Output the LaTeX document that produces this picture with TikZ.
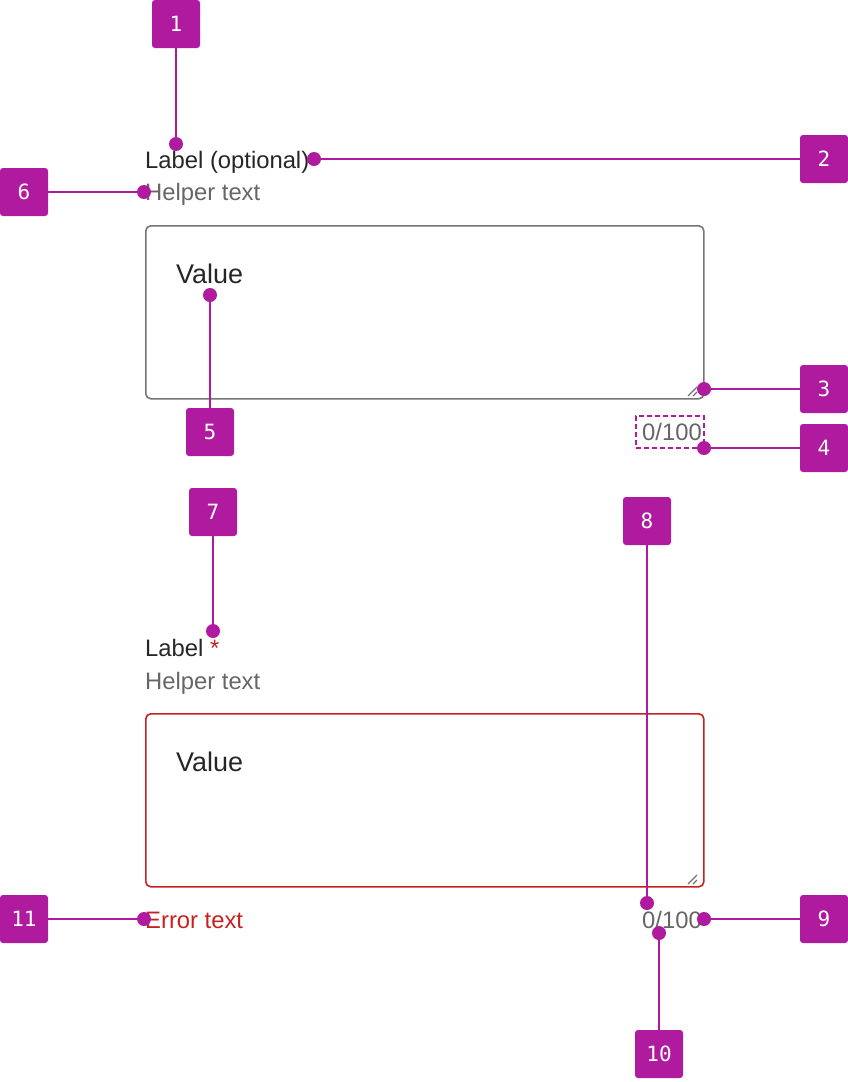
\documentclass[tikz,border=0pt]{standalone}
\usepackage{fontspec}
\setmainfont{Liberation Sans}
\newfontfamily\badgefont{DejaVu Sans Mono}
\definecolor{mag}{HTML}{B01A9E}
\definecolor{txtdark}{HTML}{262626}
\definecolor{txtgray}{HTML}{666666}
\definecolor{boxgray}{HTML}{757575}
\definecolor{errred}{HTML}{C5221F}
\tikzset{
  badge/.style={fill=mag, rounded corners=3pt, minimum width=48pt, minimum height=48pt, inner sep=0pt, text=white, font=\badgefont\fontsize{21}{21}\selectfont},
  pin/.style={circle, fill=mag, inner sep=0pt, minimum size=14pt},
  lead/.style={draw=mag, line width=1.8pt},
  fieldbox/.style={rounded corners=5pt, line width=1.6pt, minimum width=558pt, minimum height=173pt, inner sep=0pt},
  lbl/.style={anchor=base west, inner sep=0pt, text=txtdark, font=\fontsize{23.8}{23.8}\selectfont},
  hlp/.style={anchor=base west, inner sep=0pt, text=txtgray, font=\fontsize{23.8}{23.8}\selectfont},
  val/.style={anchor=base west, inner sep=0pt, text=txtdark, font=\fontsize{27}{27}\selectfont},
  cnt/.style={anchor=base east, inner sep=0pt, text=txtgray, font=\fontsize{23.8}{23.8}\selectfont},
  handle/.style={draw=boxgray, line width=1.3pt},
}
\begin{document}
\begin{tikzpicture}[x=1pt, y=-1pt]
\useasboundingbox (0,0) rectangle (848,1082);
% ---- first field ----
\node[fieldbox, draw=boxgray, anchor=north west] (box1) at (145,225) {};
\node[lbl] (label1) at (145,168) {Label (optional)};
\node[hlp] (help1) at (145,200) {Helper text};
\node[val] (value1) at (176,283) {Value};
\node[cnt] (count1) at (702,440) {0/100};
\node[draw=mag, dash pattern=on 5pt off 3pt, line width=1.5pt, minimum width=68pt, minimum height=32pt, inner sep=0pt] (countbox) at (670,432) {};
\draw[handle] (688,396) -- (697,387) (693,396) -- (697,392);
% ---- second field ----
\node[fieldbox, draw=errred, anchor=north west] (box2) at (145,713) {};
\node[lbl] (label2) at (145,656) {Label \textcolor{errred}{*}};
\node[hlp] (help2) at (145,689) {Helper text};
\node[val] (value2) at (176,771) {Value};
\node[cnt] (count2) at (702,928) {0/100};
\node[anchor=base west, inner sep=0pt, text=errred, font=\fontsize{23.8}{23.8}\selectfont] (err) at (145,928) {Error text};
\draw[handle] (688,884) -- (697,875) (693,884) -- (697,880);
% ---- badges ----
\node[badge] (b1) at (176,24) {1};
\node[badge] (b2) at (824,159) {2};
\node[badge] (b3) at (824,389) {3};
\node[badge] (b4) at (824,448) {4};
\node[badge] (b5) at (210,432) {5};
\node[badge] (b6) at (24,192) {6};
\node[badge] (b7) at (213,512) {7};
\node[badge] (b8) at (647,521) {8};
\node[badge] (b9) at (824,919) {9};
\node[badge] (b10) at (659,1054) {10};
\node[badge] (b11) at (24,919) {11};
% ---- pins ----
\node[pin] (d1) at (176,144) {};
\node[pin] (d2) at (314,159) {};
\node[pin] (d3) at (704,389) {};
\node[pin] (d4) at (704,448) {};
\node[pin] (d5) at (210,295) {};
\node[pin] (d6) at (144,192) {};
\node[pin] (d7) at (213,631) {};
\node[pin] (d8) at (647,903) {};
\node[pin] (d9) at (704,919) {};
\node[pin] (d10) at (659,933) {};
\node[pin] (d11) at (144,919) {};
% ---- leaders ----
\draw[lead] (b1.south) -- (d1.center);
\draw[lead] (b2.west) -- (d2.center);
\draw[lead] (b3.west) -- (d3.center);
\draw[lead] (b4.west) -- (d4.center);
\draw[lead] (b5.north) -- (d5.center);
\draw[lead] (b6.east) -- (d6.center);
\draw[lead] (b7.south) -- (d7.center);
\draw[lead] (b8.south) -- (d8.center);
\draw[lead] (b9.west) -- (d9.center);
\draw[lead] (b10.north) -- (d10.center);
\draw[lead] (b11.east) -- (d11.center);
\end{tikzpicture}
\end{document}
